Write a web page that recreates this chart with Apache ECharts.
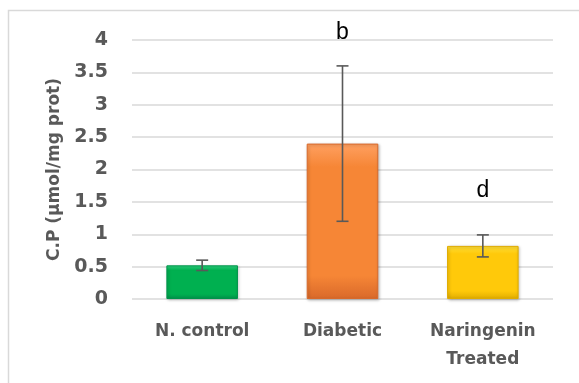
<!DOCTYPE html>
<html>
<head>
<meta charset="utf-8">
<script src="https://cdn.jsdelivr.net/npm/echarts@6/dist/echarts.min.js"></script>
<style>html,body{margin:0;padding:0;background:#fff}#c{width:579px;height:383px}</style>
</head>
<body>
<div id="c"></div>
<script>
var categories = ['N. control', 'Diabetic', 'Naringenin\nTreated'];
var means = [0.52, 2.40, 0.82];
var errors = [0.08, 1.20, 0.17];
var letters = ['', 'b', 'd'];
var letterPos = [0, 4.12, 1.68];
var yTicks = [0, 0.5, 1, 1.5, 2, 2.5, 3, 3.5, 4];
var barColors = [
  ['#2EDB84', '#00B050', '#00924A'],
  ['#FFA061', '#F68636', '#D9692A'],
  ['#FFE03A', '#FFC90A', '#E0AC00']
];

var chart = echarts.init(document.getElementById('c'), null, {renderer: 'canvas'});
var font = '"DejaVu Sans", sans-serif';
chart.setOption({
  animation: false,
  graphic: [{
    type: 'rect', shape: {x: 8.5, y: 10.5, width: 600, height: 400},
    style: {fill: 'none', stroke: '#d9d9d9', lineWidth: 1.5}, silent: true, z: -1
  }],
  grid: {left: 132, right: 26, top: 40, bottom: 84},
  xAxis: {
    type: 'category', data: categories,
    axisLine: {show: false}, axisTick: {show: false},
    axisLabel: {color: '#595959', fontFamily: font, fontWeight: 'bold', fontSize: 17, margin: 19, lineHeight: 28}
  },
  yAxis: {
    type: 'value', min: yTicks[0], max: yTicks[yTicks.length - 1], interval: 0.5,
    name: 'C.P (µmol/mg prot)', nameLocation: 'middle', nameGap: 61,
    nameTextStyle: {color: '#595959', fontFamily: font, fontWeight: 'bold', fontSize: 17},
    axisLine: {show: false}, axisTick: {show: false},
    axisLabel: {color: '#595959', fontFamily: font, fontWeight: 'bold', fontSize: 19, margin: 24},
    splitLine: {lineStyle: {color: '#d9d9d9', width: 1.5}}
  },
  series: [{
    type: 'bar', barWidth: '51%',
    data: means.map(function (v, i) {
      return {
        value: v,
        itemStyle: {
          color: new echarts.graphic.LinearGradient(0, 0, 0, 1, [
            {offset: 0, color: barColors[i][0]},
            {offset: 0.15, color: barColors[i][1]},
            {offset: 0.85, color: barColors[i][1]},
            {offset: 1, color: barColors[i][2]}
          ]),
          borderColor: barColors[i][2], borderWidth: 1,
          shadowColor: 'rgba(0,0,0,0.25)', shadowBlur: 3, shadowOffsetX: 1, shadowOffsetY: 1
        }
      };
    })
  }, {
    type: 'custom',
    data: means.map(function (v, i) { return [i, v - errors[i], v + errors[i]]; }),
    renderItem: function (params, api) {
      var lo = api.coord([api.value(0), api.value(1)]);
      var hi = api.coord([api.value(0), api.value(2)]);
      var w = 6;
      var st = {stroke: '#595959', lineWidth: 1.6};
      return {type: 'group', children: [
        {type: 'line', shape: {x1: lo[0], y1: lo[1], x2: hi[0], y2: hi[1]}, style: st},
        {type: 'line', shape: {x1: lo[0] - w, y1: lo[1], x2: lo[0] + w, y2: lo[1]}, style: st},
        {type: 'line', shape: {x1: hi[0] - w, y1: hi[1], x2: hi[0] + w, y2: hi[1]}, style: st}
      ]};
    },
    z: 10
  }, {
    type: 'custom',
    data: letters.map(function (t, i) { return [i, letterPos[i]]; }),
    renderItem: function (params, api) {
      var t = letters[params.dataIndex];
      if (!t) return null;
      var p = api.coord([api.value(0), api.value(1)]);
      return {type: 'text', style: {text: t, x: p[0], y: p[1], align: 'center', verticalAlign: 'middle',
        fill: '#000', font: '23px "Liberation Sans", Arial, sans-serif'}};
    },
    z: 11
  }]
});
</script>
</body>
</html>
